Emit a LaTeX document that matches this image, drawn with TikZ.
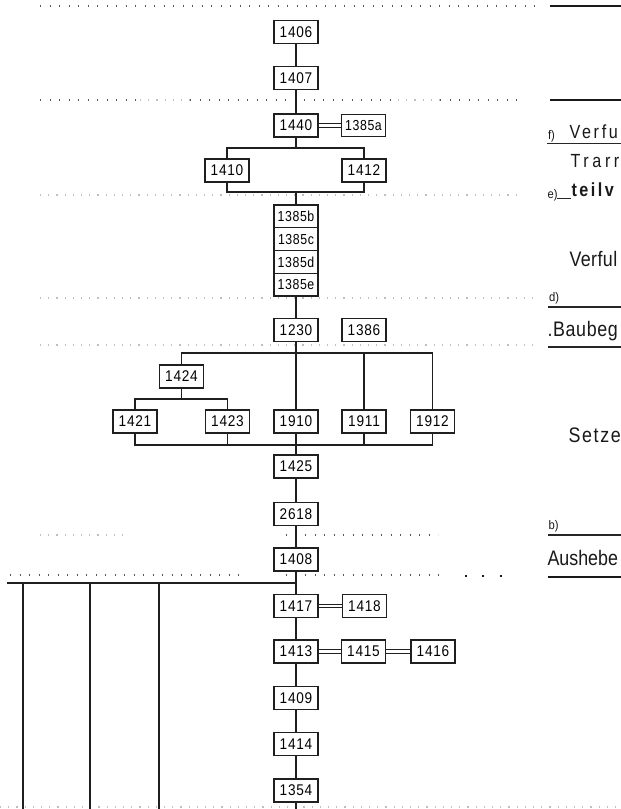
\documentclass[tikz,border=0pt]{standalone}
\usepackage{fontspec}
\setmainfont{Liberation Sans}
\newfontfamily\boxfont[FakeStretch=0.88, LetterSpace=5]{Liberation Sans}
\newfontfamily\boxfontn[FakeStretch=0.85, LetterSpace=4]{Liberation Sans}
\newfontfamily\rfontVerfu[FakeStretch=0.85, LetterSpace=14]{Liberation Sans}
\newfontfamily\rfontTrarr[FakeStretch=0.85, LetterSpace=19]{Liberation Sans}
\newfontfamily\rfontTeilv[FakeStretch=0.85, LetterSpace=13]{Liberation Sans}
\newfontfamily\rfontVerful[FakeStretch=0.85, LetterSpace=2]{Liberation Sans}
\newfontfamily\rfontBau[FakeStretch=0.85, LetterSpace=3]{Liberation Sans}
\newfontfamily\rfontSetze[FakeStretch=0.85, LetterSpace=8]{Liberation Sans}
\newfontfamily\rfontAus[FakeStretch=0.85]{Liberation Sans}
\newfontfamily\smallfont[FakeStretch=0.9]{Liberation Sans}
\begin{document}
\begin{tikzpicture}[x=1pt,y=-1pt,
  line width=1.1pt,
  nbox/.style={draw=black!88, fill=white, line width=1.2pt, minimum width=44pt, minimum height=23pt, inner sep=0pt, font=\boxfont\fontsize{15.5}{15.5}\selectfont},
  nboxs/.style={nbox, minimum height=22.75pt, font=\boxfontn\fontsize{14.5}{14.5}\selectfont},
  conn/.style={draw=black!88, line width=1.2pt},
  dbl/.style={draw=black!88, double=white, double distance=2.6pt, line width=0.9pt},
  darkdots/.style={line width=1.4pt, draw=black!65, dash pattern=on 1.4pt off 8.1pt},
  faintdots/.style={line width=1.1pt, draw=black!25, dash pattern=on 1.2pt off 7pt},
  thickrule/.style={line width=2.2pt, draw=black!90},
  rule/.style={line width=1.1pt, draw=black!85},
  rtext/.style={anchor=west, inner sep=0pt, text=black!90},
  smalllab/.style={anchor=south west, inner sep=0pt, text=black!90, font=\smallfont\fontsize{12.5}{12.5}\selectfont},
  bigdot/.style={fill=black!90, draw=none, minimum size=2.8pt, inner sep=0pt}
]
\clip (0,0) rectangle (621,809);
\fill[white] (0,0) rectangle (621,809);

% ---------- dotted separators ----------
\draw[faintdots] (140,100) -- (190,100);
\draw[faintdots] (398,100) -- (440,100);
\draw[faintdots] (40,195) -- (520,195);
\draw[faintdots] (40,298) -- (540,298);
\draw[faintdots] (40,345) -- (540,345);
\draw[faintdots] (40,535) -- (125,535);
\draw[faintdots] (0,807) -- (621,807);
\draw[darkdots] (40,6) -- (538,6);
\draw[darkdots] (40,100) -- (140,100);
\draw[darkdots] (190,100) -- (398,100);
\draw[darkdots] (440,100) -- (518,100);
\draw[darkdots] (286,535) -- (438,535);
\draw[darkdots] (10,575) -- (242,575);
\draw[darkdots] (286,575) -- (442,575);
\node[bigdot] (d1) at (466,576) {};
\node[bigdot] (d2) at (483,576) {};
\node[bigdot] (d3) at (501,576) {};

% ---------- right column rules ----------
\draw[thickrule] (550,6) -- (621,6);
\draw[thickrule] (550,100) -- (621,100);

% ---------- nodes ----------
\node[nbox] (n1406) at (296,32) {1406};
\node[nbox] (n1407) at (296,78) {1407};
\node[nbox] (n1440) at (296,125.5) {1440};
\node[nboxs] (n1385a) at (363.5,125.5) {1385a};
\node[nbox] (n1410) at (227,170.5) {1410};
\node[nbox] (n1412) at (364,170.5) {1412};
\node[nboxs] (n1385b) at (296,216.4) {1385b};
\node[nboxs] (n1385c) at (296,239.1) {1385c};
\node[nboxs] (n1385d) at (296,261.9) {1385d};
\node[nboxs] (n1385e) at (296,284.6) {1385e};
\node[nbox] (n1230) at (296,330) {1230};
\node[nbox] (n1386) at (364,330) {1386};
\node[nbox] (n1424) at (181.5,376.5) {1424};
\node[nbox] (n1421) at (135,421.5) {1421};
\node[nbox] (n1423) at (227.5,421.5) {1423};
\node[nbox] (n1910) at (296,421.5) {1910};
\node[nbox] (n1911) at (364,421.5) {1911};
\node[nbox] (n1912) at (432.5,421.5) {1912};
\node[nbox] (n1425) at (296,466.5) {1425};
\node[nbox] (n2618) at (296,514) {2618};
\node[nbox] (n1408) at (296,559.5) {1408};
\node[nbox] (n1417) at (296,606) {1417};
\node[nbox] (n1418) at (364.5,606) {1418};
\node[nbox] (n1413) at (296,651.5) {1413};
\node[nbox] (n1415) at (363.5,651.5) {1415};
\node[nbox] (n1416) at (433,651.5) {1416};
\node[nbox] (n1409) at (296,698) {1409};
\node[nbox] (n1414) at (296,744) {1414};
\node[nbox] (n1354) at (296,790.5) {1354};

% ---------- helper coordinates ----------
\coordinate (t1) at (296,148);
\coordinate (b1) at (296,192);
\coordinate (h2) at (296,353);
\coordinate (h3) at (181.5,399);
\coordinate (h4) at (296,445);
\coordinate (h5) at (296,583);
\coordinate (l0) at (7,583);
\coordinate (v1) at (23,583);
\coordinate (v2) at (90,583);
\coordinate (v3) at (159,583);
\coordinate (bot) at (296,812);

% ---------- connectors ----------
\draw[conn] (n1406) -- (n1407);
\draw[conn] (n1407) -- (n1440);
\draw[conn] (n1440) -- (t1);
\draw[conn] (n1410.north) |- (t1) -| (n1412.north);
\draw[conn] (n1410.south) |- (b1) -| (n1412.south);
\draw[conn] (b1) -- (n1385b);
\draw[conn] (n1385e) -- (n1230);
\draw[conn] (n1230) -- (n1910);
\draw[conn] (n1424.north) |- (h2) -| (n1912.north);
\draw[conn] (n1911.north) -- (n1911.north |- h2);
\draw[conn] (n1424) -- (h3);
\draw[conn] (n1421.north) |- (h3) -| (n1423.north);
\draw[conn] (n1421.south) |- (h4) -| (n1912.south);
\draw[conn] (n1423.south) -- (n1423.south |- h4);
\draw[conn] (n1911.south) -- (n1911.south |- h4);
\draw[conn] (n1910) -- (n1425);
\draw[conn] (n1425) -- (n2618);
\draw[conn] (n2618) -- (n1408);
\draw[conn] (n1408) -- (n1417);
\draw[conn] (n1417) -- (n1413);
\draw[conn] (n1413) -- (n1409);
\draw[conn] (n1409) -- (n1414);
\draw[conn] (n1414) -- (n1354);
\draw[conn] (n1354) -- (bot);
\draw[conn] (h5) -- (l0);
\draw[conn] (v1) -- (v1 |- bot);
\draw[conn] (v2) -- (v2 |- bot);
\draw[conn] (v3) -- (v3 |- bot);
\draw[dbl] (n1440) -- (n1385a);
\draw[dbl] (n1417) -- (n1418);
\draw[dbl] (n1413) -- (n1415);
\draw[dbl] (n1415) -- (n1416);

% ---------- right-hand texts ----------
\node[smalllab] (lf) at (547.5,142.5) {f)};
\node[rtext, font=\rfontVerfu\fontsize{19}{19}\selectfont] (tVerfu) at (569,131.5) {Verfu};
\coordinate (uf1) at (547,143.5); \coordinate (uf2) at (621,143.5);
\draw[rule] (uf1) -- (uf2);
\node[rtext, font=\rfontTrarr\fontsize{19}{19}\selectfont] (tTrarr) at (570,161) {Trarr};
\node[smalllab] (le) at (547,201.5) {e)};
\coordinate (ue1) at (557,198.5); \coordinate (ue2) at (571,198.5);
\draw[rule] (ue1) -- (ue2);
\node[rtext, font=\rfontTeilv\fontsize{19}{19}\selectfont\bfseries] (tteilv) at (571,189.5) {teilv};
\node[rtext, font=\rfontVerful\fontsize{21}{21}\selectfont] (tVerful) at (569,259) {Verful};
\node[smalllab] (ld) at (548.5,305) {d)};
\coordinate (ud1) at (548,307); \coordinate (ud2) at (621,307);
\draw[rule] (ud1) -- (ud2);
\node[rtext, font=\rfontBau\fontsize{21}{21}\selectfont] (tBaubeg) at (547,331) {.Baubeg};
\coordinate (ub1) at (548,347); \coordinate (ub2) at (621,347);
\draw[rule, line width=1.6pt] (ub1) -- (ub2);
\node[rtext, font=\rfontSetze\fontsize{21}{21}\selectfont] (tSetze) at (568,435) {Setze};
\node[smalllab] (lb) at (548,533) {b)};
\coordinate (ubb1) at (548,535); \coordinate (ubb2) at (621,535);
\draw[rule] (ubb1) -- (ubb2);
\node[rtext, font=\rfontAus\fontsize{21}{21}\selectfont] (tAushebe) at (547,558) {Aushebe};
\coordinate (ua1) at (548,577); \coordinate (ua2) at (621,577);
\draw[thickrule, line width=1.8pt] (ua1) -- (ua2);
\end{tikzpicture}
\end{document}
